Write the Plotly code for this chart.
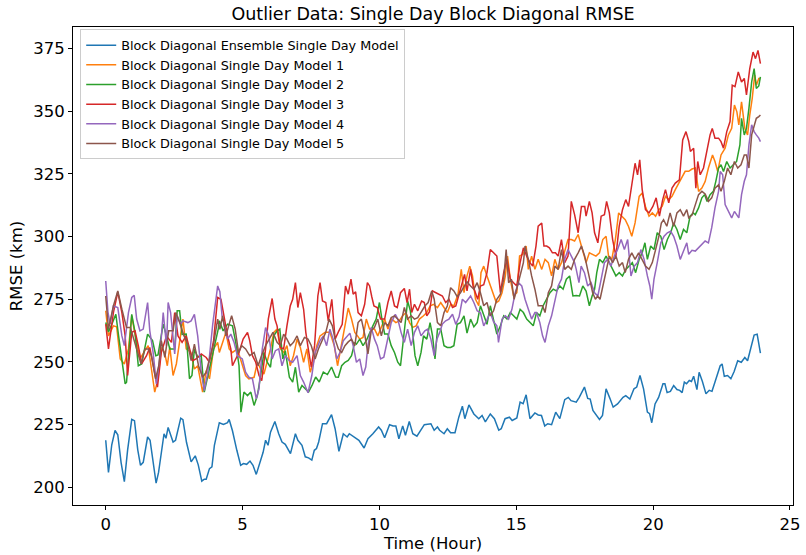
import plotly.graph_objects as go

# (hour, RMSE km) readings per series
ensemble = [(0,218.8),(0.1,206),(0.22,217),(0.34,222.7),(0.44,221),(0.56,210),(0.68,202.3),(0.8,215),(0.95,227.1),(1.05,226.6),(1.17,215),(1.27,208.8),(1.37,210),(1.53,220.1),(1.62,218.8),(1.73,210),(1.84,201.7),(1.93,206),(2.03,212.8),(2.13,221.4),(2.2,219.6),(2.28,223.9),(2.37,221),(2.46,218.1),(2.55,218.8),(2.65,224),(2.74,227.6),(2.82,227),(2.95,218),(3.12,210.2),(3.2,211.5),(3.27,212.6),(3.38,209),(3.51,202.5),(3.6,203.3),(3.67,203.3),(3.79,207.5),(3.88,208.2),(3.97,216.8),(4.06,222),(4.15,225.8),(4.3,225.1),(4.45,225.8),(4.51,227.1),(4.63,222.6),(4.79,214.8),(4.93,208.8),(5.03,209.5),(5.15,209.2),(5.27,210.5),(5.38,208.8),(5.5,205.2),(5.66,210.5),(5.75,214),(5.84,218.8),(5.93,216.8),(6.02,222),(6.18,226.3),(6.32,221.4),(6.44,218.1),(6.56,217.2),(6.75,213.5),(6.93,221.4),(7.02,218.8),(7.17,216.8),(7.29,212.2),(7.41,211.8),(7.53,210.9),(7.62,214.8),(7.7,215.5),(7.78,218.1),(7.92,225.4),(8.07,225.4),(8.25,229),(8.38,223.4),(8.52,214.4),(8.68,221.4),(8.82,220.1),(8.9,221.4),(9.1,220.1),(9.25,218.8),(9.44,215.7),(9.58,219.4),(9.76,221.4),(9.97,224.1),(10.07,222.8),(10.19,219.8),(10.37,225),(10.5,224.5),(10.6,224.5),(10.71,219.4),(10.85,224.5),(10.95,220.8),(11.09,226.3),(11.22,221.4),(11.37,220.4),(11.5,222.8),(11.64,225),(11.88,225.4),(12.0,222.8),(12.12,224.1),(12.2,222.8),(12.36,221.4),(12.48,223.4),(12.6,221.8),(12.76,221.8),(12.9,228),(13.03,232.4),(13.12,227.4),(13.27,232.9),(13.45,229.3),(13.63,227.4),(13.75,228.7),(13.87,226.1),(14.05,229.3),(14.2,227.4),(14.36,222.8),(14.45,223.4),(14.59,227.4),(14.75,228),(14.85,226.7),(15.02,227.7),(15.14,234),(15.25,233.4),(15.36,236.9),(15.5,227.4),(15.68,229.7),(15.8,228.9),(15.92,228.7),(16.04,224.5),(16.15,225.4),(16.29,225),(16.44,230),(16.59,227.4),(16.77,235),(16.9,235.9),(17.0,234.6),(17.19,234),(17.3,235.9),(17.49,240),(17.61,235.5),(17.7,235.2),(17.8,230.7),(17.92,228.7),(18.04,227.1),(18.15,228.7),(18.28,239.3),(18.42,235.5),(18.54,232),(18.7,233.3),(18.9,235.9),(19.0,236.6),(19.15,235.2),(19.3,239.3),(19.4,240),(19.52,244.6),(19.65,239.3),(19.79,230),(19.87,229.4),(19.95,225.8),(20.07,233.3),(20.2,235.9),(20.36,241.3),(20.43,241.3),(20.51,237.8),(20.63,238.3),(20.75,240.6),(20.87,239),(20.97,238.7),(21.06,237.8),(21.14,242),(21.22,241.3),(21.32,242.6),(21.4,242.2),(21.48,244.3),(21.6,239),(21.68,245.9),(21.8,242.2),(21.93,237.3),(22.05,238.7),(22.15,238.3),(22.26,242),(22.45,248.5),(22.52,249.2),(22.6,244.3),(22.72,244.6),(22.84,243.3),(22.96,246.2),(23.09,250.5),(23.22,249.9),(23.35,251.8),(23.45,250.5),(23.57,255.2),(23.69,260.7),(23.8,261.1),(23.92,253.5)]

model1 = [(0,270.4),(0.1,260.4),(0.28,264.4),(0.4,264),(0.53,251.2),(0.68,249.2),(0.83,255.2),(0.95,268.4),(1.07,261),(1.25,251.2),(1.43,254.5),(1.55,256.5),(1.67,247.2),(1.79,238),(1.91,243.3),(2.03,255.8),(2.15,253.8),(2.25,248.5),(2.34,256),(2.46,244.6),(2.58,249.2),(2.74,261.1),(2.82,267.1),(2.94,255.2),(3.1,254),(3.24,247.2),(3.36,248.5),(3.54,238),(3.67,246.6),(3.79,243.3),(3.94,255.2),(4.09,257.8),(4.15,253.8),(4.27,257.8),(4.39,261.8),(4.51,255.2),(4.63,253.8),(4.81,255.2),(4.99,248.5),(5.11,244.6),(5.23,243.3),(5.42,243.9),(5.54,249.9),(5.66,247.2),(5.78,245.2),(5.9,249.9),(6.02,255.2),(6.14,261.8),(6.26,263.1),(6.38,255.2),(6.5,253.8),(6.62,256.5),(6.74,248.5),(6.86,252.5),(6.99,259.1),(7.11,255.8),(7.23,249.9),(7.35,255.2),(7.47,245.9),(7.59,249.9),(7.71,256.5),(7.83,260.4),(8.02,261.8),(8.19,261.8),(8.35,256.5),(8.47,248.5),(8.64,258),(8.76,265),(8.86,271.5),(8.98,267.1),(9.1,261.8),(9.2,260.4),(9.28,259.1),(9.4,259.8),(9.52,267.1),(9.64,263.1),(9.82,263.1),(9.94,260.4),(10.07,263.8),(10.19,267.1),(10.31,263.1),(10.45,267.1),(10.6,265.7),(10.72,266.4),(10.85,268.4),(10.97,269.7),(11.1,265.7),(11.21,263.8),(11.34,264.4),(11.46,267.1),(11.61,268.4),(11.73,269.7),(11.85,272.3),(11.97,273),(12.12,271.7),(12.24,273.7),(12.36,271.7),(12.48,269.7),(12.6,273),(12.72,272.3),(12.87,277),(12.99,286.9),(13.09,277.6),(13.2,284.3),(13.3,288.2),(13.4,284.3),(13.51,275),(13.63,272.4),(13.71,285.6),(13.81,288.2),(13.93,284.3),(14.05,280.3),(14.17,276.3),(14.27,273.7),(14.36,274.3),(14.48,277.6),(14.6,284.3),(14.68,292.2),(14.78,283),(14.9,276.3),(15.02,277.6),(15.12,292.2),(15.24,292.9),(15.36,296.2),(15.44,286.9),(15.56,292.2),(15.68,286.9),(15.8,290.9),(15.93,286.9),(16.05,290.9),(16.17,289.6),(16.29,284.3),(16.41,290.9),(16.53,286.9),(16.65,289.6),(16.77,294.8),(16.89,298.8),(17.01,298.8),(17.13,298.2),(17.26,300.8),(17.43,294.8),(17.55,289.6),(17.67,293.5),(17.79,292.8),(17.91,292.2),(18.04,293.5),(18.16,298.8),(18.28,300.1),(18.37,292.2),(18.49,290.9),(18.62,298.8),(18.74,309.4),(18.86,308.1),(18.98,306.7),(19.1,304),(19.22,300.1),(19.34,305.4),(19.49,316),(19.6,317.3),(19.72,312),(19.85,308.1),(19.97,309.4),(20.09,308.1),(20.21,310.7),(20.33,312),(20.45,316),(20.57,314.7),(20.69,316),(20.81,318.7),(20.93,321.3),(21.05,323.9),(21.17,326),(21.3,326),(21.42,326.9),(21.54,327.3),(21.66,318),(21.78,319.3),(21.9,321.9),(22.02,327.3),(22.17,332.5),(22.26,329.9),(22.36,325.9),(22.48,332.5),(22.63,335.2),(22.75,340.5),(22.87,343.1),(22.97,352.4),(23.06,349.7),(23.13,344.5),(23.23,353.7),(23.35,343.1),(23.45,340.5),(23.53,348.4),(23.62,355),(23.71,364.3),(23.77,360.3),(23.86,363),(23.92,363)]

model2 = [(0,265.7),(0.1,262),(0.22,265),(0.37,269),(0.47,260.4),(0.59,251.2),(0.71,241.3),(0.76,241.9),(0.95,269),(1.07,261.8),(1.19,248.5),(1.31,249.2),(1.53,261.1),(1.71,258.5),(1.83,252.5),(1.91,252.8),(2.0,259.1),(2.1,265.1),(2.22,260.4),(2.34,255.2),(2.52,255.2),(2.61,270.4),(2.7,270.4),(2.79,261),(2.94,261.1),(3.06,243.3),(3.15,244.6),(3.24,255.2),(3.36,252),(3.49,252.5),(3.6,238),(3.79,247.2),(3.97,255.2),(4.11,263.1),(4.15,266.4),(4.29,262.4),(4.45,265.1),(4.63,264.4),(4.75,257.8),(4.87,248.5),(4.94,230),(5.05,238),(5.18,236.6),(5.3,238),(5.42,232.7),(5.54,236.6),(5.66,244.6),(5.78,253.8),(5.9,249.9),(6.02,247.9),(6.14,260.4),(6.26,262.4),(6.36,263.1),(6.47,251.2),(6.56,254.5),(6.71,243.9),(6.83,242),(6.93,247.9),(7.05,238),(7.17,240.6),(7.29,239.3),(7.41,238),(7.55,241),(7.67,244),(7.8,242),(7.95,246),(8.1,245),(8.25,248),(8.4,244),(8.5,243.9),(8.62,248.5),(8.74,249.9),(8.86,250.6),(8.98,252.5),(9.1,257.8),(9.16,257.1),(9.28,259.1),(9.4,256.5),(9.52,258.5),(9.64,261.8),(9.76,264.4),(9.88,267.1),(10.0,273.7),(10.09,267.1),(10.19,261.1),(10.31,261.1),(10.43,256.5),(10.55,253.8),(10.67,249.9),(10.77,248.5),(10.89,261.8),(11.03,274.3),(11.13,270.4),(11.21,263.1),(11.3,252.5),(11.4,248.5),(11.52,253.8),(11.61,260.4),(11.73,259.1),(11.85,265.7),(11.94,260.4),(12.03,251.2),(12.12,263.1),(12.24,263.1),(12.36,256.5),(12.48,255.8),(12.6,255.8),(12.72,256.5),(12.84,265),(12.96,265.7),(13.09,268.4),(13.2,261.5),(13.33,267.1),(13.45,264),(13.57,265.7),(13.69,272.4),(13.81,268.4),(13.93,265),(14.05,272.4),(14.17,267.1),(14.29,261.1),(14.42,264.4),(14.54,268.4),(14.66,267.1),(14.78,269.7),(14.9,268.4),(15.02,267.1),(15.14,271),(15.26,269.7),(15.38,267.1),(15.5,265.7),(15.62,264.4),(15.74,269.7),(15.86,268.4),(15.98,272.4),(16.11,275),(16.23,277.6),(16.35,279),(16.47,278.3),(16.59,280.3),(16.71,279),(16.83,283),(16.95,284.3),(17.07,276.3),(17.19,276.5),(17.31,276.3),(17.43,280.3),(17.55,278.3),(17.67,272.4),(17.77,276.3),(17.86,279),(17.94,285.6),(18.04,290.9),(18.16,289.6),(18.28,292.2),(18.4,289.6),(18.52,286.9),(18.64,284.3),(18.76,285.6),(18.88,284.3),(19.0,286.9),(19.12,288.2),(19.24,289.6),(19.36,285.6),(19.49,290.9),(19.6,293.5),(19.7,297.5),(19.79,290.9),(19.91,296.2),(20.03,294.8),(20.15,301.5),(20.28,300.1),(20.4,294.8),(20.52,298.8),(20.64,301.5),(20.75,305.4),(20.87,302.8),(20.99,298.8),(21.11,302.8),(21.23,301.5),(21.35,308.1),(21.47,309.4),(21.54,308.7),(21.66,311.4),(21.78,315.4),(21.88,316.7),(21.97,314),(22.08,316.7),(22.2,318),(22.29,322),(22.39,327.3),(22.48,328.6),(22.57,325.9),(22.69,329.9),(22.81,327.3),(22.93,328.6),(23.05,329.9),(23.17,336.5),(23.23,347.1),(23.33,340.5),(23.41,343.1),(23.5,351.1),(23.6,361.6),(23.69,366.9),(23.77,359),(23.86,360),(23.92,363.6)]

model3 = [(0,265.1),(0.1,255.2),(0.28,269.7),(0.44,277.9),(0.59,269.7),(0.71,260.4),(0.8,244.6),(0.95,261.8),(1.07,262.4),(1.19,256.5),(1.31,249.2),(1.49,252.5),(1.61,255.8),(1.79,245.9),(1.89,240),(2.03,253.8),(2.22,260.4),(2.4,257.8),(2.52,269.7),(2.64,260.4),(2.79,257.8),(2.94,260.4),(3.04,255.8),(3.18,250.5),(3.3,251.2),(3.49,253.2),(3.67,251.8),(3.79,249.9),(3.94,258.5),(4.09,275.7),(4.21,275),(4.33,268),(4.45,260.4),(4.57,255.2),(4.63,248.5),(4.75,251.2),(4.87,253.8),(5.02,259.1),(5.18,261.8),(5.26,258.5),(5.36,252.5),(5.48,249.9),(5.6,244.6),(5.7,242.6),(5.84,255.2),(5.94,267.1),(6.08,275.3),(6.18,267.1),(6.26,264.4),(6.38,255.8),(6.5,255.2),(6.62,264.4),(6.74,272.3),(6.83,275),(6.93,281.6),(7.02,271.7),(7.11,277.6),(7.23,271),(7.31,261.8),(7.41,254.5),(7.51,247.9),(7.63,256.5),(7.75,276.3),(7.83,281.6),(7.92,274.3),(8.04,273.7),(8.13,266.4),(8.26,275),(8.38,259.1),(8.5,262),(8.64,265),(8.76,280.3),(8.86,277),(8.96,283),(9.04,277),(9.13,278),(9.22,269.7),(9.34,268.4),(9.46,273),(9.56,281.6),(9.64,280.3),(9.72,276),(9.8,272.3),(9.92,271.7),(10.04,267.1),(10.19,267.1),(10.31,273.7),(10.43,278.3),(10.55,272.3),(10.65,271.7),(10.77,277.6),(10.91,279.3),(11.01,273.7),(11.1,279),(11.18,269.7),(11.28,273),(11.4,270.4),(11.54,274.3),(11.64,273.7),(11.73,268.4),(11.83,270),(11.94,278.3),(12.06,277.6),(12.18,277),(12.3,276.3),(12.42,273.7),(12.54,275),(12.67,271.7),(12.79,272.3),(12.96,279),(13.11,284.9),(13.2,278.3),(13.33,286.9),(13.42,280.3),(13.51,277.6),(13.59,275),(13.69,280.3),(13.81,280.8),(13.93,285.6),(14.05,294.8),(14.17,293.5),(14.29,292.2),(14.42,277.6),(14.54,285.6),(14.66,290.9),(14.78,283),(14.9,281.6),(15.02,280.3),(15.14,289.6),(15.26,295.5),(15.38,292.2),(15.5,289.6),(15.6,288.2),(15.72,296.2),(15.8,304.1),(15.93,305.4),(16.01,296.2),(16.11,296.2),(16.21,295.5),(16.32,293.5),(16.43,293.5),(16.53,292.2),(16.65,298.8),(16.77,289.6),(16.89,292.2),(17.01,314),(17.13,308.7),(17.26,301.5),(17.38,312),(17.5,312),(17.55,308.1),(17.67,314),(17.77,309.4),(17.86,301.5),(17.98,297.5),(18.1,308.1),(18.22,308.7),(18.3,314),(18.4,309.4),(18.52,298.8),(18.64,292.2),(18.76,304.1),(18.88,310.7),(19.0,314.7),(19.1,312),(19.22,320),(19.34,329.2),(19.43,324.6),(19.51,330.6),(19.6,318.7),(19.72,310.7),(19.85,309.4),(19.99,312),(20.11,315.4),(20.23,308.1),(20.35,314.7),(20.45,318.7),(20.57,313.4),(20.69,319.3),(20.81,321.3),(20.96,322.6),(21.08,338.5),(21.2,341.8),(21.3,338),(21.36,333.9),(21.48,335.2),(21.56,319.3),(21.63,329.9),(21.72,324.6),(21.84,327.3),(21.96,333.9),(22.08,340.5),(22.16,343.1),(22.26,339.2),(22.39,339.2),(22.48,337.8),(22.57,335.2),(22.69,341.8),(22.81,345.8),(22.89,360.3),(22.99,359.7),(23.11,365.6),(23.23,361.6),(23.33,363),(23.41,356.4),(23.53,366.9),(23.65,373.5),(23.74,370.9),(23.83,374.2),(23.92,368.9)]

model4 = [(0,282.3),(0.08,270),(0.16,265.1),(0.28,272.3),(0.44,271.7),(0.59,260.4),(0.68,256.5),(0.83,269.7),(0.95,275.7),(1.04,276.6),(1.13,267.1),(1.25,262.4),(1.37,263.1),(1.53,273.7),(1.61,262.4),(1.73,253.8),(1.85,241.3),(1.97,251.2),(2.1,269.7),(2.22,256.5),(2.28,273.7),(2.37,269.7),(2.52,253.2),(2.61,268.4),(2.74,265.1),(2.82,266.4),(3.0,265.7),(3.12,266.4),(3.24,269),(3.36,260.4),(3.49,245.9),(3.6,238.6),(3.73,245.9),(3.91,265.1),(4.09,280.3),(4.17,278),(4.25,268.4),(4.33,264.4),(4.45,259.1),(4.57,261.1),(4.69,257.8),(4.81,252.5),(4.99,251.2),(5.11,245.9),(5.23,243.9),(5.36,243.3),(5.5,235.3),(5.6,239.3),(5.72,255.2),(5.84,263.7),(5.96,260.4),(6.08,251.2),(6.2,254.5),(6.32,255.2),(6.44,248.5),(6.56,252.5),(6.71,250.5),(6.83,249.9),(6.99,252.5),(7.11,244.6),(7.23,242),(7.39,237.7),(7.53,244.6),(7.65,253.8),(7.83,258.5),(7.95,260.4),(8.07,256.5),(8.19,263.1),(8.31,259.1),(8.44,251.2),(8.56,253.8),(8.68,258.5),(8.8,260),(8.92,261.5),(9.04,256.5),(9.16,249.9),(9.28,251.2),(9.4,244.6),(9.5,248),(9.58,256.5),(9.7,263.8),(9.82,259.1),(9.92,256.5),(10.04,251.2),(10.16,251.9),(10.31,259.1),(10.43,265.7),(10.58,269),(10.67,267.1),(10.79,261.8),(10.91,257.8),(11.03,263.1),(11.16,256.5),(11.28,261.8),(11.4,264.4),(11.52,260.4),(11.66,262.4),(11.76,263.1),(11.88,259.1),(12.0,252.5),(12.1,259.1),(12.2,261.8),(12.3,265.1),(12.42,266.4),(12.54,267.1),(12.67,269),(12.79,265),(12.91,268),(13.03,275),(13.15,273.7),(13.33,276.3),(13.45,273.7),(13.57,270.4),(13.69,269.7),(13.81,264.4),(13.93,266.9),(14.05,269.7),(14.17,266),(14.29,264.4),(14.35,257.8),(14.48,267.1),(14.6,268.4),(14.72,267.1),(14.84,271),(14.96,277.6),(15.08,281.6),(15.2,280.3),(15.32,275),(15.44,271),(15.56,267.1),(15.68,269.7),(15.74,269.7),(15.86,265.7),(15.96,260.4),(16.05,257.8),(16.17,264.4),(16.29,268.4),(16.41,275),(16.53,280.3),(16.65,283),(16.77,290.9),(16.89,294.8),(17.01,292.2),(17.13,289.6),(17.19,286.9),(17.29,281.6),(17.37,288.2),(17.49,285.6),(17.61,280.3),(17.73,281.6),(17.86,277.6),(17.98,276.3),(18.1,282.9),(18.22,289.6),(18.34,290.9),(18.46,288.2),(18.58,292.2),(18.7,294.8),(18.83,298.8),(18.95,294.8),(19.07,298.8),(19.19,284.3),(19.31,288.2),(19.43,289.6),(19.55,294.8),(19.67,290.9),(19.79,284.3),(19.88,280.3),(19.95,275),(20.03,282.9),(20.15,289.6),(20.28,297.5),(20.4,300.1),(20.52,301.5),(20.64,302.1),(20.75,300.1),(20.87,296.2),(20.99,290.9),(21.11,294.2),(21.23,297.5),(21.3,292.9),(21.42,294.5),(21.54,294.2),(21.66,295.5),(21.78,296.8),(21.9,298.2),(22.02,297.5),(22.14,303.5),(22.26,311.4),(22.39,318),(22.45,325.9),(22.54,324.6),(22.63,312.7),(22.75,310),(22.87,307.4),(22.97,310),(23.06,308.7),(23.13,307.4),(23.23,316.7),(23.33,322),(23.41,324.6),(23.5,336.5),(23.6,344.5),(23.69,341.8),(23.77,340.5),(23.86,339.2),(23.92,337.8)]

model5 = [(0,276.3),(0.1,263.1),(0.28,272.3),(0.44,278.3),(0.59,271),(0.76,263.7),(0.9,263.7),(1.04,258.5),(1.17,254.5),(1.29,249.2),(1.43,255.2),(1.55,255.2),(1.67,252.5),(1.82,243.3),(1.94,248.5),(2.03,258.5),(2.16,251.8),(2.3,262.4),(2.46,262.4),(2.56,269.7),(2.7,265.7),(2.86,260.4),(3.0,257.1),(3.12,250.5),(3.24,257.1),(3.39,248.5),(3.54,243.9),(3.67,245.9),(3.79,251.2),(3.94,257.1),(4.09,267.1),(4.17,263),(4.27,268.4),(4.39,260.4),(4.49,264.4),(4.6,268.4),(4.73,263.1),(4.85,253.8),(4.97,256.5),(5.11,255.2),(5.26,252.5),(5.42,253.8),(5.57,248.5),(5.69,252.5),(5.84,256.5),(5.96,259.1),(6.11,261.8),(6.26,257.8),(6.38,256.5),(6.5,261.1),(6.62,259.1),(6.74,256.5),(6.86,257.8),(6.99,260.4),(7.11,256.5),(7.26,259.8),(7.39,259.1),(7.51,256.5),(7.65,251.2),(7.77,255.2),(7.92,259.1),(8.04,261.8),(8.16,267.1),(8.28,264.4),(8.38,259.1),(8.5,255.2),(8.62,253.8),(8.74,256.5),(8.86,258),(8.98,259.1),(9.1,256.5),(9.22,265.7),(9.34,267.1),(9.46,261.1),(9.58,253.2),(9.7,262.4),(9.82,263.8),(9.94,267.1),(10.07,260.4),(10.19,265.7),(10.31,264.4),(10.43,267.7),(10.55,268.4),(10.67,267.1),(10.79,265.7),(10.91,271.7),(11.03,267.1),(11.16,268.4),(11.28,267.1),(11.4,267.7),(11.52,269.7),(11.66,272.3),(11.78,273.7),(11.91,278.3),(12.0,275),(12.12,265.7),(12.24,264.4),(12.36,269.7),(12.48,272.3),(12.6,279.6),(12.72,278.3),(12.84,276),(12.96,277.6),(13.09,280.3),(13.2,282),(13.33,280.3),(13.45,279),(13.57,281.6),(13.69,277.6),(13.81,272.4),(13.93,273.7),(14.05,268.4),(14.17,270.4),(14.29,275),(14.42,277),(14.54,283),(14.63,294.8),(14.72,281.6),(14.82,283),(14.92,275),(15.02,279),(15.14,284.3),(15.26,289.6),(15.32,296.2),(15.44,290.9),(15.56,284.3),(15.68,279),(15.8,272.4),(15.96,272.4),(16.05,269.7),(16.17,277.6),(16.29,280.3),(16.41,288.2),(16.53,286.9),(16.65,294.8),(16.77,286.9),(16.89,288.2),(17.01,286.9),(17.13,290.9),(17.26,293.5),(17.38,296.2),(17.5,292.2),(17.55,289.6),(17.67,284.3),(17.79,277.6),(17.89,275),(17.97,276.3),(18.06,275),(18.16,280.3),(18.28,286.9),(18.4,292.2),(18.52,289.6),(18.64,292.2),(18.76,288.2),(18.88,289.6),(18.98,285.6),(19.1,290.9),(19.22,293.5),(19.34,290.9),(19.47,293.5),(19.6,290.9),(19.72,288.2),(19.85,286.9),(19.97,289.6),(20.09,294.8),(20.21,300.1),(20.3,305.4),(20.38,306.7),(20.5,304.1),(20.62,309.4),(20.75,304.1),(20.87,309.4),(20.99,310.7),(21.11,308.1),(21.23,310.7),(21.3,307.4),(21.42,308.5),(21.54,312.7),(21.66,316.7),(21.78,318),(21.9,317),(22.02,314),(22.14,315.4),(22.26,319.3),(22.39,320.6),(22.48,318),(22.6,322),(22.72,327.3),(22.84,324.6),(22.97,329.9),(23.09,327.3),(23.21,328.6),(23.33,332.5),(23.41,332.5),(23.5,327.3),(23.6,340.5),(23.69,344.5),(23.77,347.1),(23.86,347.8),(23.92,348.4)]

series_names = ["Block Diagonal Ensemble Single Day Model",
                "Block Diagonal Single Day Model 1",
                "Block Diagonal Single Day Model 2",
                "Block Diagonal Single Day Model 3",
                "Block Diagonal Single Day Model 4",
                "Block Diagonal Single Day Model 5"]
series_data = [ensemble, model1, model2, model3, model4, model5]
colors = ["#1f77b4", "#ff7f0e", "#2ca02c", "#d62728", "#9467bd", "#8c564b"]

x_ticks = [0, 5, 10, 15, 20, 25]
y_ticks = [200, 225, 250, 275, 300, 325, 350, 375]

FONT = "DejaVu Sans"

fig = go.Figure()
for name, data, col in zip(series_names, series_data, colors):
    fig.add_trace(go.Scatter(
        x=[p[0] for p in data], y=[p[1] for p in data],
        mode="lines", name=name,
        line=dict(color=col, width=1.5),
    ))

axis_common = dict(showgrid=False, zeroline=False, showline=True, mirror=True,
                   linecolor="black", linewidth=1, ticks="outside", ticklen=4,
                   tickwidth=1, tickcolor="black", ticklabeloverflow="allow",
                   tickfont=dict(family=FONT, size=16.5, color="black"))

fig.update_layout(
    width=806, height=555,
    margin=dict(l=73, r=6, t=27, b=48),
    paper_bgcolor="white", plot_bgcolor="white",
    font=dict(family=FONT, color="black"),
    title=dict(text="Outlier Data: Single Day Block Diagonal RMSE",
               x=0.5, xref="paper", xanchor="center",
               y=1 - 14 / 555, yref="container", yanchor="middle",
               font=dict(family=FONT, size=17.5, color="black")),
    xaxis=dict(range=[-1.196, 25.11], tickvals=x_ticks,
               title=dict(text="Time (Hour)", font=dict(family=FONT, size=16.5), standoff=4),
               **axis_common),
    yaxis=dict(range=[193, 383.5], tickvals=y_ticks,
               title=dict(text="RMSE (km)", font=dict(family=FONT, size=16.5), standoff=6),
               **axis_common),
    legend=dict(x=0.01, y=0.995, xanchor="left", yanchor="top",
                bgcolor="rgba(255,255,255,0.8)", bordercolor="#cccccc", borderwidth=1,
                font=dict(family=FONT, size=12.8, color="black"),
                tracegroupgap=0),
    showlegend=True,
)

fig.write_html("out.html")
